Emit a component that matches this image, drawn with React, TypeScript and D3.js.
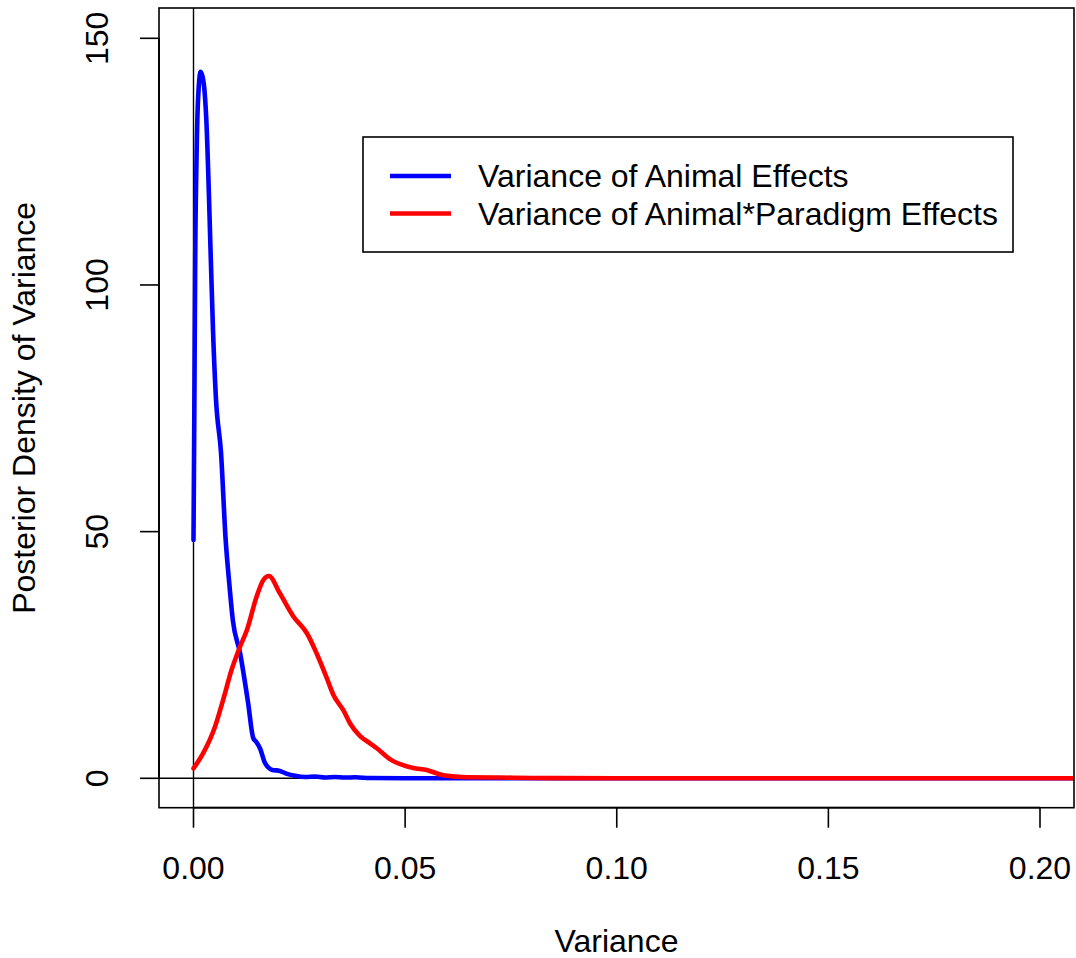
import React from 'react';
import * as d3 from 'd3';

const width = 1076;
const height = 958;

// tick values
const xTicks = [0, 0.05, 0.1, 0.15, 0.2];
const xTickLabels = ['0.00', '0.05', '0.10', '0.15', '0.20'];
const yTicks = [0, 50, 100, 150];
const yTickLabels = ['0', '50', '100', '150'];

// posterior density of animal variance
const animalX = [0, 0.0002, 0.0004, 0.0007, 0.0011, 0.0017, 0.0024, 0.003, 0.0041, 0.0046, 0.0053, 0.0065, 0.0076, 0.0084, 0.0093, 0.011, 0.0129, 0.0141, 0.0148, 0.0157, 0.0169, 0.0186, 0.0204, 0.0221, 0.024, 0.0264, 0.0287, 0.0311, 0.0334, 0.0358, 0.0382, 0.0417, 0.05, 0.1, 0.15, 0.21];
const animalY = [48.3, 75, 105, 125, 138, 143.2, 141, 134, 105, 91, 77, 66, 48.3, 40, 32, 25.4, 15.3, 8.2, 7.4, 6.1, 3.1, 1.7, 1.5, 0.9, 0.5, 0.25, 0.35, 0.15, 0.25, 0.15, 0.2, 0.05, 0, 0, 0, 0];

// posterior density of animal*paradigm variance
const paradigmX = [0, 0.0023, 0.0051, 0.007, 0.009, 0.011, 0.0126, 0.0149, 0.0165, 0.0178, 0.0204, 0.0236, 0.0268, 0.0291, 0.0315, 0.033, 0.0354, 0.037, 0.0393, 0.0417, 0.0433, 0.0464, 0.0519, 0.0551, 0.059, 0.0646, 0.0724, 0.0802, 0.1, 0.15, 0.21];
const paradigmY = [2.0, 5.1, 10.5, 15.9, 22, 26.7, 30, 36.8, 40.2, 41.0, 37.5, 32.8, 29.4, 25.3, 20.3, 17.0, 13.8, 11.1, 8.6, 7.1, 6.1, 3.9, 2.1, 1.7, 0.6, 0.2, 0.15, 0.06, 0, 0, 0];

const seriesNames = ['Variance of Animal Effects', 'Variance of Animal*Paradigm Effects'];
const seriesColors = ['#0000ff', '#ff0000'];

const font = '"Liberation Sans", Arial, Helvetica, sans-serif';
const fs = 32;

export default function App() {
  const box = { left: 159, top: 8, right: 1074, bottom: 807.7 };

  const x = d3.scaleLinear().domain([0, 0.2]).range([193.5, 1040]);
  const y = d3.scaleLinear().domain([0, 150]).range([778.3, 38.3]);

  const line = d3
    .line<[number, number]>()
    .x(d => x(d[0]))
    .y(d => y(d[1]))
    .curve(d3.curveMonotoneX);

  const animal = animalX.map((v, i) => [v, animalY[i]] as [number, number]);
  const paradigm = paradigmX.map((v, i) => [v, paradigmY[i]] as [number, number]);

  return (
    <svg
      width={width}
      height={height}
      style={{ position: 'absolute', left: 0, top: 0, background: '#fff' }}
      fontFamily={font}
    >
      <defs>
        <clipPath id="plotclip">
          <rect x={box.left} y={box.top} width={box.right - box.left} height={box.bottom - box.top} />
        </clipPath>
      </defs>

      {/* reference lines at zero */}
      <line x1={x(0)} x2={x(0)} y1={box.top} y2={box.bottom} stroke="#000" strokeWidth={1.4} />
      <line x1={box.left} x2={box.right} y1={y(0)} y2={y(0)} stroke="#000" strokeWidth={1.4} />

      <g clipPath="url(#plotclip)" fill="none" strokeWidth={4.6} strokeLinejoin="round" strokeLinecap="round">
        <path d={line(animal) || ''} stroke={seriesColors[0]} />
        <path d={line(paradigm) || ''} stroke={seriesColors[1]} />
      </g>

      {/* plot box */}
      <rect
        x={box.left}
        y={box.top}
        width={box.right - box.left}
        height={box.bottom - box.top}
        fill="none"
        stroke="#000"
        strokeWidth={1.6}
      />

      {/* x axis */}
      <line x1={x(0)} x2={x(0.2)} y1={box.bottom} y2={box.bottom} stroke="#000" strokeWidth={1.8} />
      {xTicks.map((t, i) => (
        <g key={'xt' + i}>
          <line x1={x(t)} x2={x(t)} y1={box.bottom} y2={box.bottom + 20} stroke="#000" strokeWidth={1.6} />
          <text x={x(t)} y={878.5} textAnchor="middle" fontSize={fs}>
            {xTickLabels[i]}
          </text>
        </g>
      ))}

      {/* y axis */}
      <line x1={box.left} x2={box.left} y1={y(0)} y2={y(150)} stroke="#000" strokeWidth={1.8} />
      {yTicks.map((t, i) => (
        <g key={'yt' + i}>
          <line x1={box.left} x2={box.left - 19} y1={y(t)} y2={y(t)} stroke="#000" strokeWidth={1.6} />
          <text transform={`translate(108,${y(t)}) rotate(-90)`} textAnchor="middle" fontSize={fs}>
            {yTickLabels[i]}
          </text>
        </g>
      ))}

      {/* axis titles */}
      <text x={(box.left + box.right) / 2} y={952} textAnchor="middle" fontSize={fs}>
        Variance
      </text>
      <text
        transform={`translate(35,${(box.top + box.bottom) / 2}) rotate(-90)`}
        textAnchor="middle"
        fontSize={fs}
      >
        Posterior Density of Variance
      </text>

      {/* legend */}
      <rect x={363} y={137} width={650} height={115} fill="#fff" stroke="#000" strokeWidth={1.6} />
      {seriesNames.map((name, i) => (
        <g key={name}>
          <line
            x1={390}
            x2={451}
            y1={176 + i * 37.5}
            y2={176 + i * 37.5}
            stroke={seriesColors[i]}
            strokeWidth={4.6}
          />
          <text x={478} y={187 + i * 37.5} fontSize={fs}>
            {name}
          </text>
        </g>
      ))}
    </svg>
  );
}
